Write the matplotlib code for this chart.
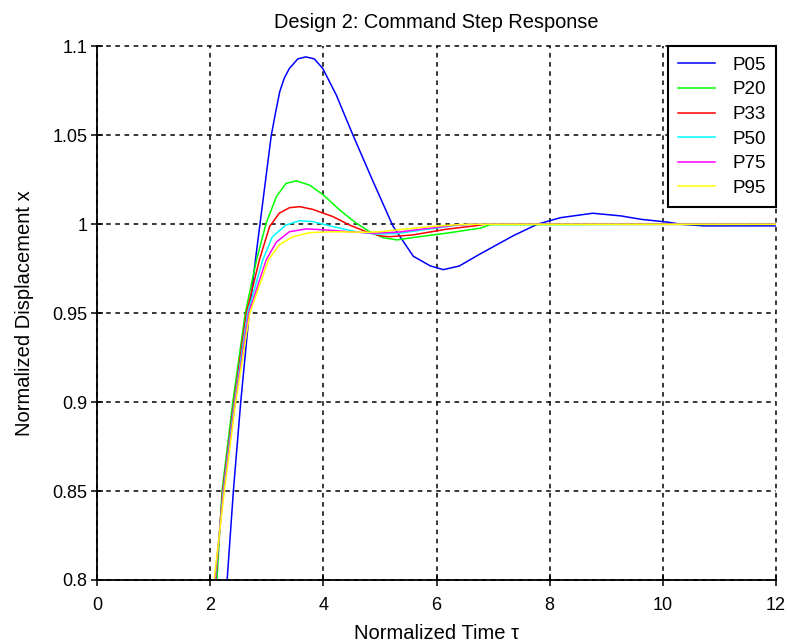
import matplotlib
matplotlib.use("Agg")
import matplotlib.pyplot as plt

plt.rcParams['font.family'] = ['Liberation Sans', 'DejaVu Sans']

labels = ["P05", "P20", "P33", "P50", "P75", "P95"]
colors = ["#0000ff", "#00ff00", "#ff0000", "#00ffff", "#ff00ff", "#ffff00"]

t_p05 = [2.2, 2.30, 2.41, 2.54, 2.69, 2.80, 2.88, 2.96, 3.08, 3.16, 3.23, 3.31, 3.40, 3.55, 3.69, 3.84, 3.99,
         4.23, 4.52, 4.88, 5.23, 5.59, 5.89, 6.12, 6.40, 6.77, 7.36, 7.78, 8.19, 8.76, 9.26, 9.61,
         10.09, 10.32, 10.73, 12.0]
x_p05 = [0.77, 0.80, 0.85, 0.90, 0.95, 0.98, 1.0, 1.020, 1.050, 1.0635, 1.0746, 1.0822, 1.0876, 1.0930, 1.0941, 1.093, 1.0876,
         1.0726, 1.0504, 1.024, 0.999, 0.982, 0.9766, 0.9745, 0.9765, 0.9833, 0.9936, 1.0, 1.0037, 1.0062, 1.0047, 1.0028,
         1.0012, 1.0, 0.9991, 0.9991]

t_p20 = [2.0, 2.12, 2.21, 2.40, 2.62, 2.82, 2.99, 3.17, 3.34, 3.52, 3.76, 4.0, 4.29, 4.58, 4.82,
         5.05, 5.30, 5.58, 6.18, 6.77, 6.95, 12.0]
x_p20 = [0.78, 0.80, 0.85, 0.90, 0.95, 0.98, 1.0006, 1.0155, 1.023, 1.0244, 1.022, 1.0165, 1.008, 1.0006, 0.9959,
         0.9925, 0.9912, 0.9925, 0.995, 0.9978, 0.9998, 1.0]

t_p33 = [2.0, 2.10, 2.22, 2.42, 2.64, 2.87, 3.05, 3.22, 3.40, 3.58, 3.81, 4.17, 4.46, 4.76, 5.0,
         5.17, 5.58, 6.17, 6.70, 6.85, 12.0]
x_p33 = [0.78, 0.80, 0.85, 0.90, 0.95, 0.98, 0.9987, 1.0062, 1.0093, 1.0099, 1.0084, 1.0043, 0.9996, 0.9958, 0.9935,
         0.993, 0.994, 0.9972, 0.9992, 1.0, 1.0]

t_p50 = [2.0, 2.09, 2.23, 2.43, 2.66, 2.93, 3.10, 3.34, 3.58, 3.81, 4.17, 4.58, 4.93, 5.3, 5.8, 6.3, 6.6, 12.0]
x_p50 = [0.78, 0.80, 0.85, 0.90, 0.95, 0.98, 0.993, 0.9996, 1.002, 1.0015, 0.9987, 0.9958, 0.9945, 0.9948, 0.997,
         0.9992, 1.0, 1.0]

t_p75 = [2.0, 2.08, 2.24, 2.44, 2.68, 2.99, 3.17, 3.40, 3.70, 4.05, 4.46, 4.88, 5.3, 5.8, 6.3, 6.6, 12.0]
x_p75 = [0.78, 0.80, 0.85, 0.90, 0.95, 0.98, 0.990, 0.9958, 0.9974, 0.9968, 0.9958, 0.995, 0.9955, 0.9975, 0.9994,
         1.0, 1.0]

t_p95 = [2.0, 2.07, 2.25, 2.45, 2.70, 3.03, 3.22, 3.46, 3.76, 4.17, 4.76, 5.0, 5.5, 6.0, 6.4, 6.6, 12.0]
x_p95 = [0.78, 0.80, 0.85, 0.90, 0.95, 0.98, 0.9884, 0.993, 0.9953, 0.9958, 0.9955, 0.9958, 0.9975, 0.999, 0.9998,
         1.0, 1.0]

series_t = [t_p05, t_p20, t_p33, t_p50, t_p75, t_p95]
series_x = [x_p05, x_p20, x_p33, x_p50, x_p75, x_p95]

xticks = [0, 2, 4, 6, 8, 10, 12]
yticks = [0.8, 0.85, 0.9, 0.95, 1.0, 1.05, 1.1]
ytick_labels = ["0.8", "0.85", "0.9", "0.95", "1", "1.05", "1.1"]

fig = plt.figure(figsize=(7.87, 6.44), dpi=100)
ax = fig.add_axes([97 / 787, 1 - 580 / 644, (776 - 97) / 787, (580 - 46.4) / 644])

for t, x, c, lab in zip(series_t, series_x, colors, labels):
    ax.plot(t, x, color=c, lw=1.1, label=lab)

ax.set_xlim(0, 12)
ax.set_ylim(0.8, 1.1)
ax.set_xticks(xticks)
ax.set_yticks(yticks)
ax.set_yticklabels(ytick_labels)

ax.grid(True, color="black", linestyle=(0, (3, 3)), linewidth=1.1)
for gl in ax.get_xgridlines() + ax.get_ygridlines():
    gl.set_clip_on(False)

ax.spines["top"].set_visible(False)
ax.spines["right"].set_visible(False)
ax.spines["left"].set_linewidth(1.3)
ax.spines["bottom"].set_linewidth(1.3)
ax.tick_params(direction="inout", length=8, width=1.1, labelsize=13)
ax.tick_params(axis="x", pad=8)
ax.tick_params(axis="y", pad=3)

ax.set_title("Design 2: Command Step Response", fontsize=14.4, pad=13)
ax.set_xlabel("Normalized Time τ", fontsize=14.5, labelpad=7.5)
ax.set_ylabel("Normalized Displacement x", fontsize=14.5, labelpad=13)

leg = ax.legend(loc="upper right", fontsize=13.5, frameon=True, fancybox=False,
                borderaxespad=0.0, handlelength=2.0, handletextpad=0.9,
                labelspacing=0.40, borderpad=0.55)
leg.get_frame().set_edgecolor("black")
leg.get_frame().set_linewidth(1.5)
leg.get_frame().set_alpha(1.0)

fig.savefig("out.png", dpi=100)
